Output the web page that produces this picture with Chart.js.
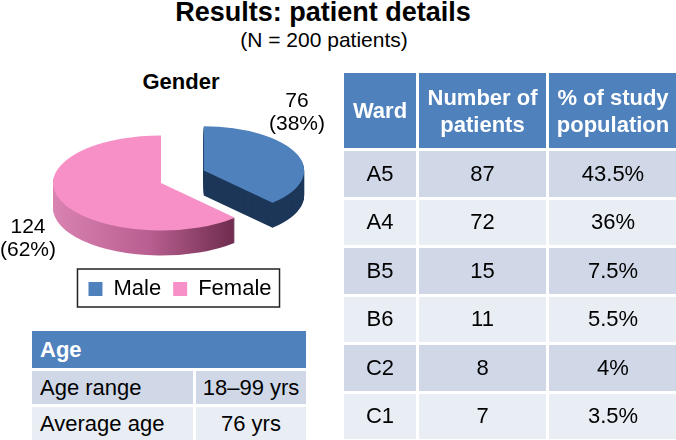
<!DOCTYPE html>
<html>
<head>
<meta charset="utf-8">
<script src="https://cdn.jsdelivr.net/npm/chart.js@4"></script>
<style>
  body { margin: 0; width: 676px; height: 440px; background: #fff; position: relative; overflow: hidden;
         font-family: "Liberation Sans", Arial, sans-serif; color: #000; }
  .txt { position: absolute; line-height: 1; white-space: nowrap; }
  #title { left: 0; width: 646px; top: -1px; text-align: center; font-size: 27px; font-weight: bold; }
  #subtitle { left: 0; width: 648px; top: 29px; text-align: center; font-size: 21px; }
  #gender { left: 131px; width: 100px; top: 71px; text-align: center; font-size: 22px; font-weight: bold; }
  #pie { position: absolute; left: 0; top: 60px; }
  .grid { position: absolute; display: grid; gap: 3px; }
  .cell { display: flex; align-items: center; justify-content: center; font-size: 22px; }
  .head { background: #4f81bd; color: #fff; font-weight: bold; text-align: center; line-height: 27px; }
  .odd { background: #d0d8e8; }
  .even { background: #e9edf4; }
  #ward { left: 344px; top: 73px; grid-template-columns: 72px 127px 128px; grid-template-rows: 75px repeat(6, 45.5px); }
  #age { left: 32px; top: 331px; grid-template-columns: 161px 110px; grid-template-rows: 37px 33px 33px; }
  #age .left { justify-content: flex-start; padding-left: 8px; }
</style>
</head>
<body>
<div class="txt" id="title">Results: patient details</div>
<div class="txt" id="subtitle">(N = 200 patients)</div>
<div class="txt" id="gender">Gender</div>
<canvas id="pie" width="360" height="250"></canvas>
<div class="grid" id="ward"></div>
<div class="grid" id="age"></div>
<script>
// data
const genderLabels = ['Male', 'Female'];
const genderCounts = [76, 124];

const wardHeaders = ['Ward', 'Number of<br>patients', '% of study<br>population'];
const wards = ['A5', 'A4', 'B5', 'B6', 'C2', 'C1'];
const wardPatients = [87, 72, 15, 11, 8, 7];
const wardPercent = ['43.5%', '36%', '7.5%', '5.5%', '4%', '3.5%'];

const ageTitle = 'Age';
const ageRows = ['Age range', 'Average age'];
const ageValues = ['18–99 yrs', '76 yrs'];

// pie look
const PIE_CX = 161, PIE_CY = 123;   // canvas coords
const PIE_R = 108;
const TILT = 0.44;
const DEPTH = 25;
const EXPLODE = [46, 0];
const ARC_SCALE = [0.93, 1];   // male slice sits farther back
const LIFT = [-5, 0];
const topColors = ['#4f81bd', '#f790c6'];
const LABEL_POS = [[297, 41], [28, 167]];

// tables
const ward = document.getElementById('ward');
wardHeaders.forEach(h => {
  ward.insertAdjacentHTML('beforeend', `<div class="cell head">${h}</div>`);
});
wards.forEach((w, i) => {
  const cls = i % 2 === 0 ? 'odd' : 'even';
  [w, wardPatients[i], wardPercent[i]].forEach(v => {
    ward.insertAdjacentHTML('beforeend', `<div class="cell ${cls}">${v}</div>`);
  });
});

const age = document.getElementById('age');
age.insertAdjacentHTML('beforeend', `<div class="cell head left" style="grid-column: span 2">${ageTitle}</div>`);
ageRows.forEach((r, i) => {
  const cls = i % 2 === 0 ? 'odd' : 'even';
  age.insertAdjacentHTML('beforeend', `<div class="cell ${cls} left">${r}</div>`);
  age.insertAdjacentHTML('beforeend', `<div class="cell ${cls}">${ageValues[i]}</div>`);
});

// draw one arc element flattened, pushed down by dy
function drawArc(ctx, arc, i, dy, fill) {
  const mid = (arc.startAngle + arc.endAngle) / 2;
  ctx.save();
  ctx.translate(PIE_CX, PIE_CY + dy + LIFT[i]);
  ctx.scale(ARC_SCALE[i], TILT * ARC_SCALE[i]);
  ctx.translate(Math.cos(mid) * EXPLODE[i] / ARC_SCALE[i], Math.sin(mid) * EXPLODE[i] / ARC_SCALE[i]);
  ctx.translate(-arc.x, -arc.y);
  const saved = arc.options;
  if (fill) arc.options = Object.assign({}, saved, { backgroundColor: fill, borderWidth: 0 });
  arc.draw(ctx);
  arc.options = saved;
  ctx.restore();
}

const tiltPlugin = {
  id: 'tilt',
  beforeDatasetsDraw(chart) {
    const ctx = chart.ctx;
    const arcs = chart.getDatasetMeta(0).data;
    const femaleSide = ctx.createLinearGradient(arcs[1].x - PIE_R, 0, arcs[1].x + PIE_R, 0);
    femaleSide.addColorStop(0, '#d983b2');
    femaleSide.addColorStop(0.45, '#b85e90');
    femaleSide.addColorStop(0.85, '#6c2b4c');
    const sides = ['#1d3759', femaleSide];
    for (let d = DEPTH; d >= 1; d--) {
      arcs.forEach((arc, i) => drawArc(ctx, arc, i, d, sides[i]));
    }
    arcs.forEach((arc, i) => drawArc(ctx, arc, i, 0, null));
    return false;
  },
  afterDraw(chart) {
    const ctx = chart.ctx;
    const total = genderCounts.reduce((a, b) => a + b, 0);
    ctx.save();
    ctx.fillStyle = '#000';
    ctx.font = '21px "Liberation Sans", Arial, sans-serif';
    ctx.textAlign = 'center';
    genderCounts.forEach((v, i) => {
      const [x, y] = LABEL_POS[i];
      ctx.fillText(String(v), x, y);
      ctx.fillText('(' + Math.round(v / total * 100) + '%)', x, y + 23);
    });
    // legend frame
    const boxes = chart.legend.legendHitBoxes;
    const l = Math.min(...boxes.map(b => b.left)) - 11;
    const r = Math.max(...boxes.map(b => b.left + b.width)) + 8;
    const t = boxes[0].top - 9;
    const b = boxes[0].top + boxes[0].height + 7;
    ctx.strokeStyle = '#222';
    ctx.lineWidth = 1.5;
    ctx.strokeRect(l, t, r - l, b - t);
    ctx.restore();
  }
};

new Chart(document.getElementById('pie'), {
  type: 'pie',
  data: {
    labels: genderLabels,
    datasets: [{
      data: genderCounts,
      backgroundColor: topColors,
      borderWidth: 0
    }]
  },
  options: {
    responsive: false,
    animation: false,
    events: [],
    radius: PIE_R,
    layout: { padding: { bottom: 0 } },
    plugins: {
      tooltip: { enabled: false },
      legend: {
        position: 'bottom',
        labels: {
          boxWidth: 14,
          boxHeight: 14,
          padding: 12,
          color: '#000',
          font: { family: '"Liberation Sans", Arial, sans-serif', size: 22 }
        }
      }
    }
  },
  plugins: [tiltPlugin]
});
</script>
</body>
</html>
